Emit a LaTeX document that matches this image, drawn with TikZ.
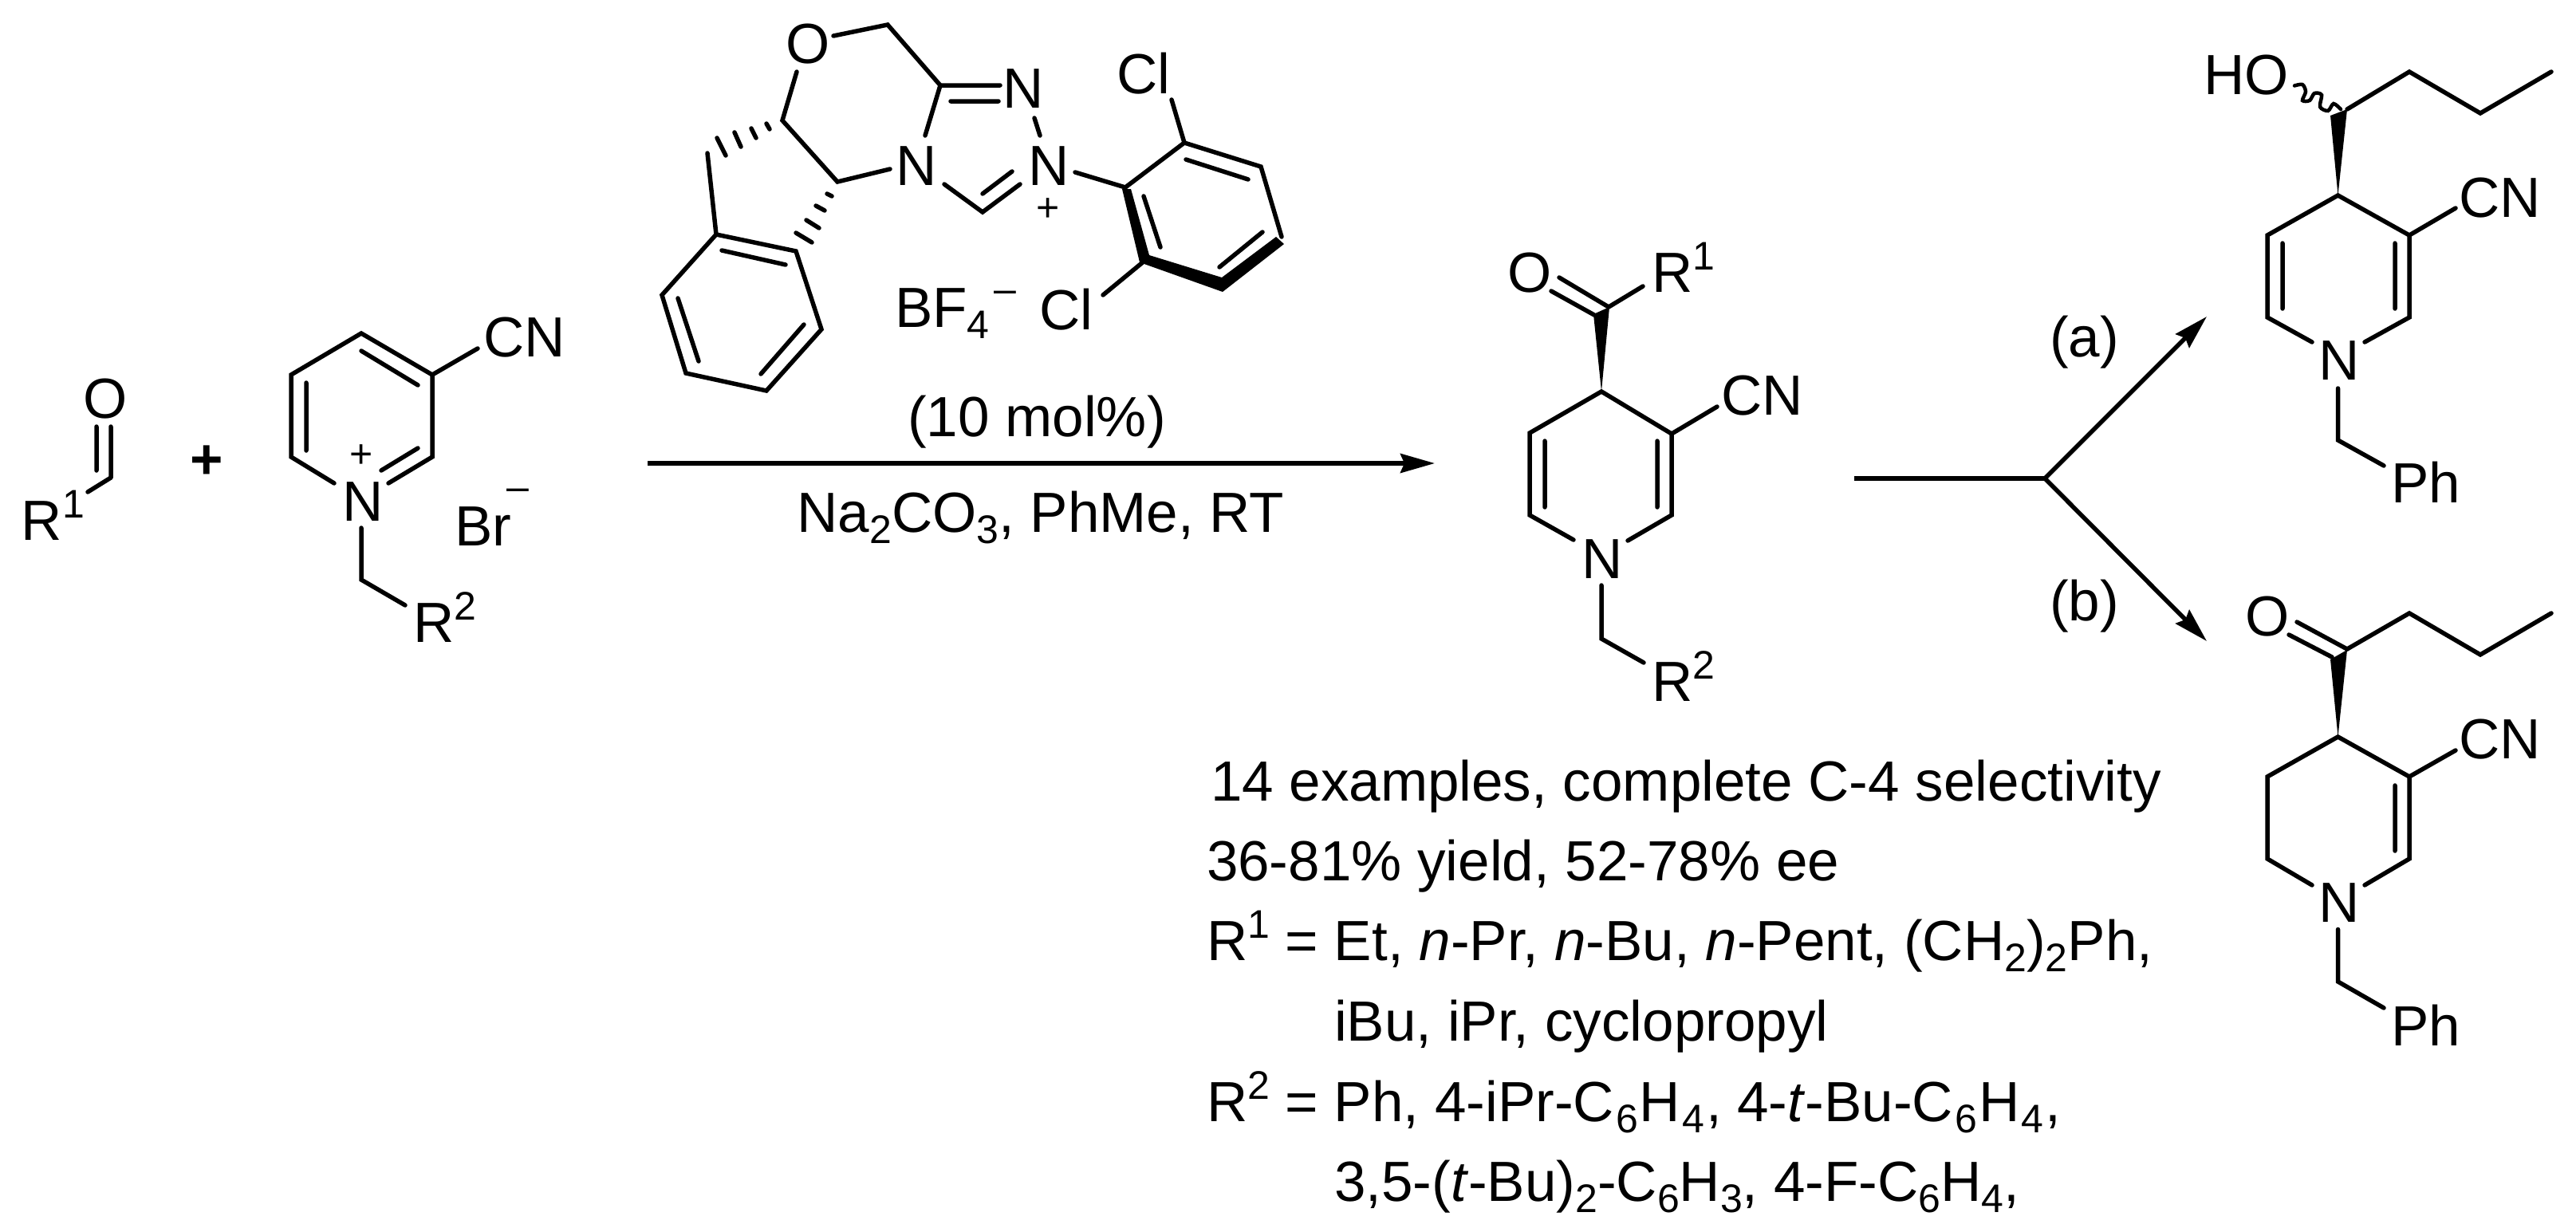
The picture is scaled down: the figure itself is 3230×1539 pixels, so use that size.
\documentclass[tikz,border=0pt]{standalone}
\usepackage{fontspec}
\setmainfont{Liberation Sans}
\usetikzlibrary{arrows.meta}
\newcommand\bigtxt{\fontsize{71}{80}\selectfont}
\newcommand\smalltxt{\fontsize{50}{55}\selectfont}
\newcommand\sps[1]{\raisebox{28pt}{\smalltxt #1}}
\newcommand\sbs[1]{\raisebox{-14pt}{\smalltxt #1}}
\newcommand\sbw[1]{\kern2pt\sbs{#1}\kern2pt}
\tikzset{
  x=1pt,y=-1pt,
  bond/.style={line width=5.5pt,line cap=round,line join=miter},
  atom/.style={inner sep=0pt,outer sep=0pt,anchor=base west,font=\bigtxt},
  ctr/.style={inner sep=0pt,outer sep=0pt,anchor=base,font=\bigtxt},
  rxn/.style={line width=5.5pt,-{Stealth[length=43pt,width=24pt,inset=5pt]}}
}
\begin{document}
\begin{tikzpicture}
\useasboundingbox (0,0) rectangle (3230,1539);
% aldehyde
\node[atom] (aldO) at (104,524) {O};
\draw[bond] (139,599)--(139,535) (121,590)--(121,535) (139,599)--(110,617);
\node[atom] (aldR) at (27,677) {R\sps{1}};
\node[ctr,font=\bfseries\bigtxt] (plus) at (259,600) {+};
% pyridinium
\draw[bond,line join=miter] (419,606)--(365,573)--(365,470)--(453,418)--(542,470)--(542,573)--(487,606);
\draw[bond] (453,440)--(524,483) (384,480)--(384,565) (524,562)--(478,590) (542,470)--(599,437);
\node[atom] (pyCN) at (606,447) {CN};
\node[atom] (pyN) at (429,653) {N};
\node[ctr,font=\smalltxt] (pyPlus) at (453,586) {+};
\draw[bond] (453,662)--(453,727)--(508,759);
\node[atom] (pyR) at (518,805) {R\sps{2}};
\node[atom] (pyBr) at (570,684) {Br};
\node[ctr,font=\smalltxt] (pyMinus) at (649,627) {–};
% catalyst
\node[atom] (catO) at (985,79) {O};
\draw[bond] (1045,45)--(1113,31)--(1179,107)--(1254,107) (1192,127)--(1252,127) (1179,107)--(1160,170);
\node[atom] (catN1) at (1257,135) {N};
\draw[bond] (1297,148)--(1304,170);
\node[atom] (catN2) at (1289,232) {N};
\node[ctr,font=\smalltxt] (catPlus) at (1314,277) {+};
\node[atom] (catN3) at (1123,232) {N};
\draw[bond] (1184,231)--(1232,266)--(1279,231) (1232,243)--(1269,215) (1348,216)--(1411,235);
\draw[bond] (1411,235)--(1485,179)--(1581,209)--(1607,297);
\fill (1407,237)--(1429,329)--(1533,366)--(1610,306)--(1600,297)--(1532,348)--(1441,320)--(1418,237)--cycle;
\draw[bond] (1487,200)--(1565,225) (1434,246)--(1455,310) (1583,291)--(1529,335);
\draw[bond] (1485,179)--(1469,125) (1434,328)--(1383,370);
\node[atom] (catCl1) at (1400,117) {Cl};
\node[atom] (catCl2) at (1303,413) {Cl};
\node[atom] (catBF) at (1122,410) {BF\sbs{4}};
\node[ctr,font=\smalltxt] (catMinus) at (1260,379) {–};
\draw[bond] (999,90)--(981,151)--(1050,228)--(1116,212);
\draw[bond] (961,155)--(965,162) (942,161)--(948,173) (921,166)--(929,184) (899,173)--(910,195);
\draw[bond] (887,192)--(898,294);
\draw[bond] (898,294)--(998,315)--(1030,413)--(961,490)--(860,468)--(830,370)--cycle;
\draw[bond] (905,314)--(985,332) (1008,407)--(954,469) (876,453)--(850,374);
\draw[bond] (1037,243)--(1043,246) (1023,258)--(1034,264) (1011,276)--(1027,286) (998,292)--(1018,304);
\node[ctr] (mol) at (1300,547) {(10 mol\%)};
\coordinate (arrA) at (812,581);
\coordinate (arrB) at (1799,581);
\draw[rxn] (arrA)--(arrB);
\node[ctr] (cond) at (1305,667) {Na\sbs{2}CO\sbs{3}, PhMe, RT};
% product
\node[atom] (prO) at (1890,366) {O};
\draw[bond] (1955,348)--(2017,385) (1945,365)--(1999,395) (2017,385)--(2060,359);
\fill (2008,491)--(1998,394)--(2018,385)--cycle;
\node[atom] (prR) at (2071,366) {R\sps{1}};
\draw[bond] (1973,677)--(1918,646)--(1918,543)--(2008,491)--(2096,544)--(2096,646)--(2041,678);
\draw[bond] (1937,553)--(1937,636) (2078,553)--(2078,636) (2096,544)--(2153,510);
\node[atom] (prCN) at (2158,520) {CN};
\node[atom] (prN) at (1983,725) {N};
\draw[bond] (2008,734)--(2008,801)--(2061,831);
\node[atom] (prR2) at (2071,879) {R\sps{2}};
% branch
\coordinate (brA) at (2325,600);
\coordinate (brM) at (2564,600);
\coordinate (brU) at (2767,397);
\coordinate (brD) at (2767,804);
\draw[line width=5.5pt] (brA)--(brM);
\draw[rxn] (brM)--(brU);
\draw[rxn] (brM)--(brD);
\node[atom] (la) at (2570,447) {(a)};
\node[atom] (lb) at (2570,778) {(b)};
% product a
\node[atom] (aHO) at (2763,118) {HO};
\draw[line width=4.5pt,line cap=round] plot[smooth] coordinates {(2877,107.5)(2887,106)(2891,115)(2887,126)(2896,126)(2902,117)(2911,119)(2909,134)(2919,139)(2926,130)(2935,137)};
\fill (2931.5,245)--(2922,145)--(2943,137)--cycle;
\draw[bond] (2943,137)--(3021,90)--(3110,142)--(3199,90);
\draw[bond] (2899,429)--(2843,398)--(2843,295)--(2931.5,245)--(3021,295)--(3021,398)--(2965,429);
\draw[bond] (2862,305)--(2862,387) (3003,305)--(3003,387) (3021,295)--(3079,261);
\node[atom] (aCN) at (3083,272) {CN};
\node[atom] (aN) at (2907,476) {N};
\draw[bond] (2931.5,487)--(2931.5,552)--(2989,584);
\node[atom] (aPh) at (2998,630) {Ph};
% product b
\node[atom] (bO) at (2815,797) {O};
\draw[bond] (2880,780)--(2943,814) (2870,796)--(2924,824);
\fill (2931.5,924)--(2922,827)--(2943,815)--cycle;
\draw[bond] (2943,814)--(3021,769)--(3110,821)--(3199,769);
\draw[bond] (2899,1110)--(2843,1077)--(2843,974)--(2931.5,924)--(3021,974)--(3021,1077)--(2965,1110);
\draw[bond] (3003,985)--(3003,1067) (3021,974)--(3079,941);
\node[atom] (bCN) at (3083,951) {CN};
\node[atom] (bN) at (2907,1156) {N};
\draw[bond] (2931.5,1165.5)--(2931.5,1231)--(2989,1264);
\node[atom] (bPh) at (2998,1311) {Ph};
% text
\node[atom] (t1) at (1518,1004) {14 examples, complete C-4 selectivity};
\node[atom] (t2) at (1513,1104) {36-81\% yield, 52-78\% ee};
\node[atom] (t3) at (1513,1204) {R\sps{1} = Et, \textit{n}-Pr, \textit{n}-Bu, \textit{n}-Pent, (CH\sbs{2})\sbs{2}Ph,};
\node[atom] (t4) at (1673,1305) {iBu, iPr, cyclopropyl};
\node[atom] (t5) at (1513,1406) {R\sps{2} = Ph, 4-iPr-C\sbw{6}H\sbw{4}, 4-\textit{t}-Bu-C\sbw{6}H\sbw{4},};
\node[atom] (t6) at (1673,1506) {3,5-(\textit{t}-Bu)\sbs{2}-C\sbs{6}H\sbs{3}, 4-F-C\sbs{6}H\sbs{4},};
\end{tikzpicture}
\end{document}
